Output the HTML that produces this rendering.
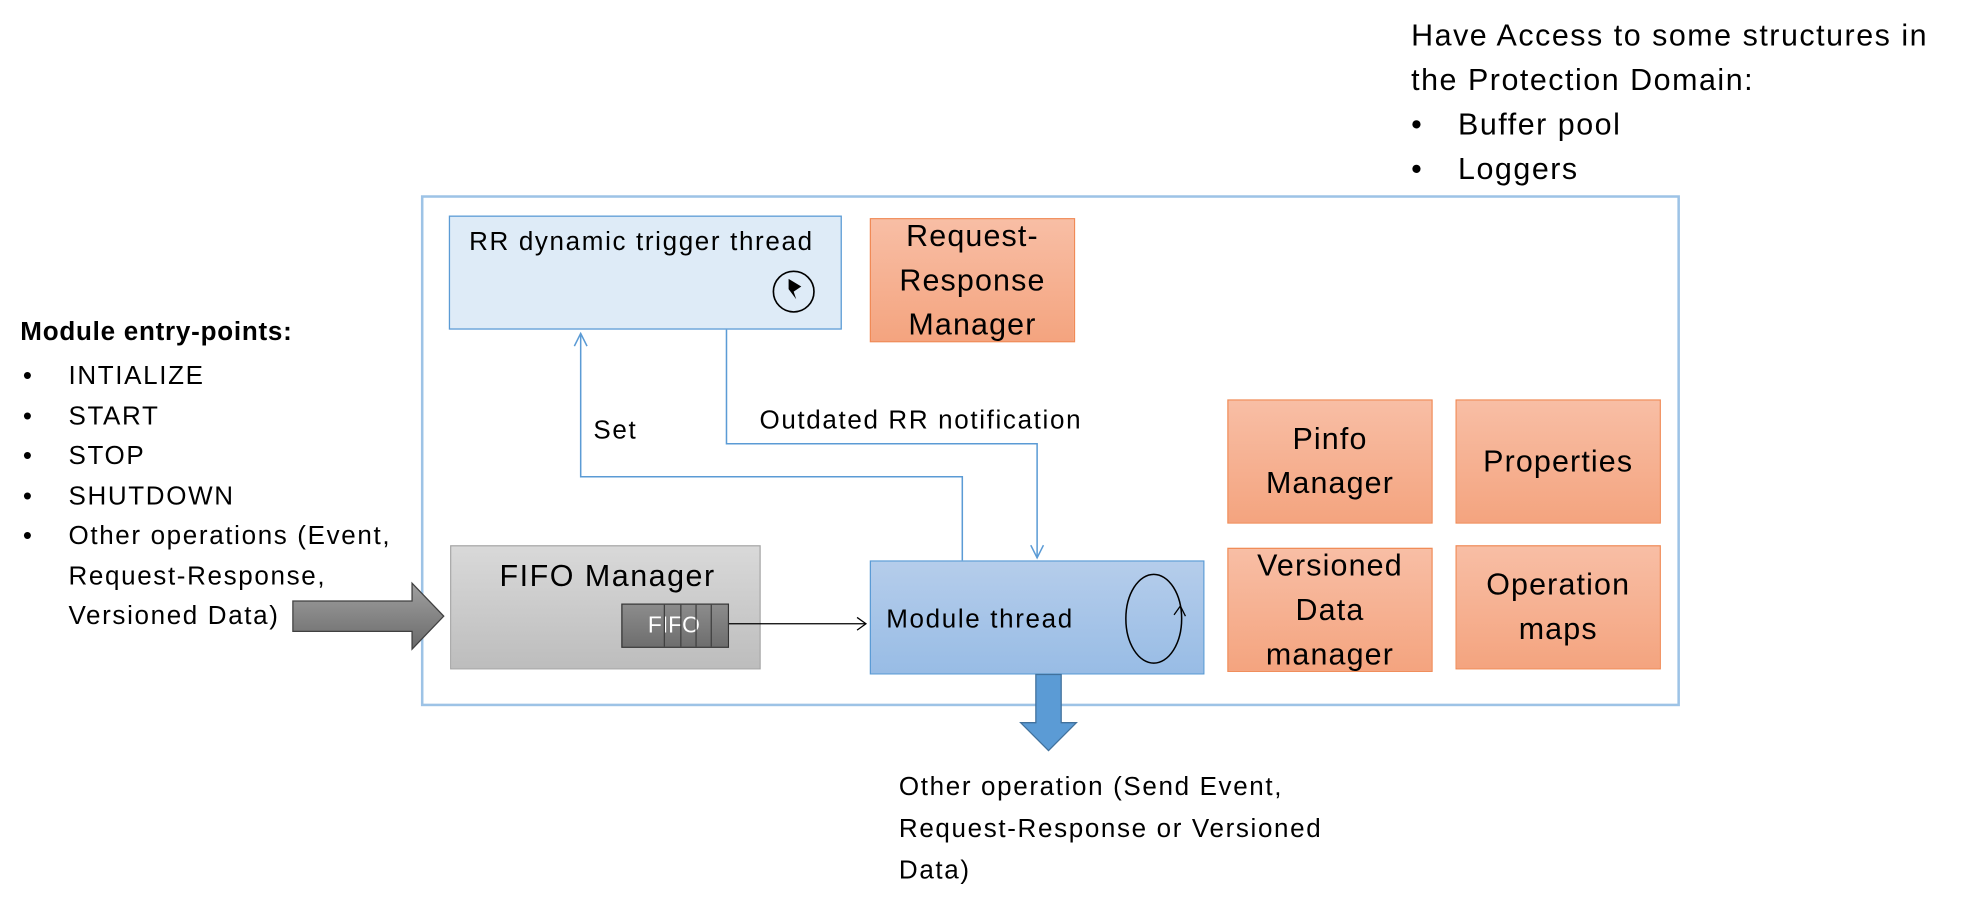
<!DOCTYPE html>
<html><head><meta charset="utf-8"><style>
html,body{margin:0;padding:0;background:#fff;width:1988px;height:904px;overflow:hidden}
#w{position:absolute;left:0;top:0;width:1568px;height:713px;transform:scale(1.26786);transform-origin:0 0;font-family:"Liberation Sans",sans-serif;color:#000}
.a{position:absolute;white-space:nowrap}
.box{position:absolute;box-sizing:border-box;display:flex;align-items:center;justify-content:center;text-align:center;font-size:24px;letter-spacing:0.9px;line-height:35px}
.or{background:linear-gradient(#f8bea5,#f4a47f);border:1px solid #f08a56}
.t20{font-size:20.5px;letter-spacing:1.3px}
.t23{font-size:24px;letter-spacing:1.2px}
</style></head><body><div id="w">
<div class="a t23" style="left:1113px;top:11px;line-height:35px">Have Access to some structures in<br>the Protection Domain:</div>
<div class="a t23" style="left:1113px;top:81px;line-height:35px">•</div><div class="a t23" style="left:1150px;top:81px;line-height:35px">Buffer pool</div>
<div class="a t23" style="left:1113px;top:116px;line-height:35px">•</div><div class="a t23" style="left:1150px;top:116px;line-height:35px">Loggers</div>

<div style="position:absolute;left:332px;top:154px;width:993px;height:403px;box-sizing:border-box;border:2px solid #9dc3e6"></div>

<div style="position:absolute;left:354px;top:170px;width:310px;height:90px;box-sizing:border-box;background:#deebf7;border:1px solid #5b9bd5"></div>
<div class="a t20" style="left:370px;top:179px">RR dynamic trigger thread</div>

<div class="box or" style="left:686px;top:172px;width:162px;height:98px">Request-<br>Response<br>Manager</div>
<div class="box or" style="left:968px;top:315px;width:162px;height:98px">Pinfo<br>Manager</div>
<div class="box or" style="left:1148px;top:315px;width:162px;height:98px">Properties</div>
<div class="box or" style="left:968px;top:432px;width:162px;height:98px">Versioned<br>Data<br>manager</div>
<div class="box or" style="left:1148px;top:430px;width:162px;height:98px">Operation<br>maps</div>

<div style="position:absolute;left:355px;top:430px;width:245px;height:98px;box-sizing:border-box;background:linear-gradient(#d9d9d9,#bdbdbd);border:1px solid #a5a5a5"></div>
<div class="a t23" style="left:394px;top:441px">FIFO Manager</div>
<div style="position:absolute;left:490px;top:476px;width:85px;height:35px;box-sizing:border-box;background:linear-gradient(#8c8c8c,#6e6e6e);border:1px solid #333"></div>
<div class="a" style="left:511px;top:483px;color:#fff;font-size:18px">FIFO</div>

<div style="position:absolute;left:686px;top:442px;width:264px;height:90px;box-sizing:border-box;background:linear-gradient(#b5cdeb,#98bce5);border:1px solid #5b9bd5"></div>
<div class="a t20" style="left:699px;top:477px">Module thread</div>

<div class="a t20" style="left:468px;top:328px">Set</div>
<div class="a t20" style="left:599px;top:320px">Outdated RR notification</div>

<div class="a t20" style="left:16px;top:250px;font-weight:bold;letter-spacing:0.6px">Module entry-points:</div>
<div class="a t20" style="left:18px;top:281px;line-height:31.5px">•<br>•<br>•<br>•<br>•</div>
<div class="a t20" style="left:54px;top:281px;line-height:31.5px">INTIALIZE<br>START<br>STOP<br>SHUTDOWN<br>Other operations (Event,<br>Request-Response,<br>Versioned Data)</div>

<div class="a t20" style="left:709px;top:604px;line-height:33px">Other operation (Send Event,<br>Request-Response or Versioned<br>Data)</div>

<svg width="1568" height="713" style="position:absolute;left:0;top:0">
<defs>
<linearGradient id="g1" x1="0" y1="0" x2="0" y2="1"><stop offset="0" stop-color="#a0a0a0"/><stop offset="1" stop-color="#6a6a6a"/></linearGradient>
</defs>
<g fill="none" stroke="#5b9bd5" stroke-width="1.2">
<polyline points="759,442 759,376 458,376 458,263"/>
<polyline points="453,273 458,263 463,273"/>
<polyline points="573,260 573,350 818,350 818,440"/>
<polyline points="813,430 818,440 823,430"/>
</g>
<line x1="575" y1="492" x2="683" y2="492" stroke="#000" stroke-width="1"/>
<polyline points="676,487 683,492 676,497" fill="none" stroke="#000"/>
<g stroke="#404040" stroke-width="1"><line x1="524" y1="477" x2="524" y2="510"/><line x1="537" y1="477" x2="537" y2="510"/><line x1="549" y1="477" x2="549" y2="510"/><line x1="561" y1="477" x2="561" y2="510"/></g>
<circle cx="626" cy="230" r="16" fill="none" stroke="#000" stroke-width="1.3"/>
<polygon points="622,220 632,226 626,230 628,236 622,228" fill="#000"/>
<ellipse cx="910" cy="488" rx="22" ry="35" fill="none" stroke="#000" stroke-width="1.2"/>
<polyline points="926,485 931,478 935,486" fill="none" stroke="#000"/>
<polygon points="231,474 325,474 325,460 350,486 325,512 325,498 231,498" fill="url(#g1)" stroke="#404040" stroke-width="1"/>
<polygon points="817,532 837,532 837,570 849,570 827,592 805,570 817,570" fill="#5b9bd5" stroke="#41719c" stroke-width="1"/>
</svg>
</div></body></html>
